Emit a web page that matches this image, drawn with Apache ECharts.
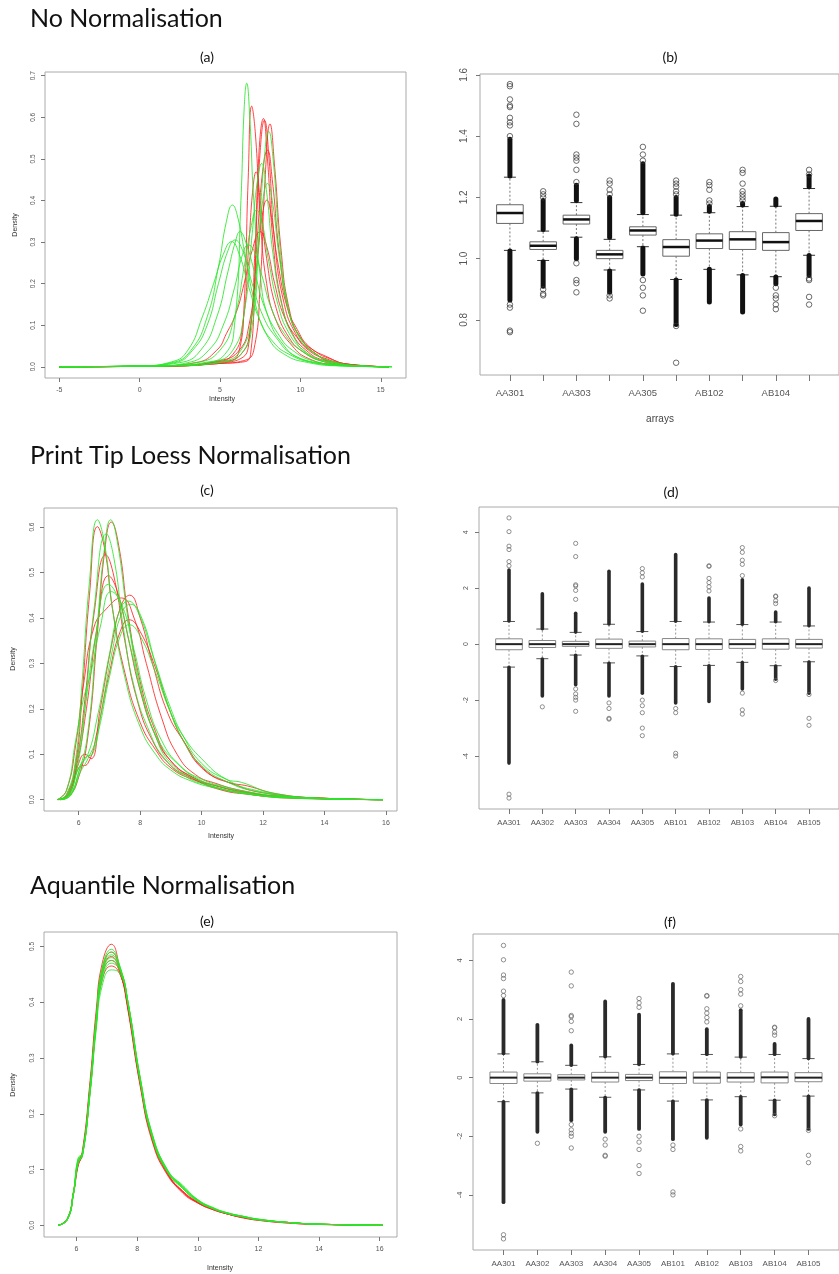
<!DOCTYPE html>
<html><head><meta charset="utf-8">
<script src="https://cdn.jsdelivr.net/npm/echarts@6/dist/echarts.min.js"></script>
<style>html,body{margin:0;padding:0;background:#fff}#c{width:839px;height:1274px}</style>
</head><body><div id="c"></div>
<script>
// ---------- Panel (a): No normalisation densities ----------
const aR1 = [[-5,0],[2,0.002],[4,0.006],[5.5,0.012],[6.2,0.04],[6.5,0.15],[6.75,0.45],[6.97,0.627],[7.2,0.56],[7.5,0.36],[7.9,0.2],[8.5,0.11],[9.5,0.05],[10.5,0.02],[12,0.006],[15.5,0]];
const aR2 = [[-5,0],[2,0.002],[5,0.008],[6.5,0.012],[6.9,0.03],[7.15,0.2],[7.4,0.5],[7.7,0.597],[7.95,0.5],[8.3,0.3],[8.8,0.16],[9.5,0.08],[10.5,0.035],[11.5,0.015],[13,0.004],[15.5,0]];
const aR3 = [[-5,0],[2,0.002],[5,0.01],[6.3,0.02],[6.8,0.06],[7.2,0.3],[7.5,0.52],[7.76,0.593],[8.05,0.5],[8.4,0.3],[9,0.15],[9.7,0.08],[10.5,0.04],[11.7,0.018],[13,0.005],[15.5,0]];
const aR4 = [[-5,0],[2,0.002],[5,0.008],[6.5,0.015],[7.1,0.04],[7.5,0.2],[7.8,0.45],[8.11,0.584],[8.4,0.48],[8.8,0.28],[9.3,0.14],[10,0.07],[11,0.035],[11.8,0.02],[13,0.006],[15.5,0]];
const aR5 = [[-5,0],[2,0.002],[5,0.012],[6.3,0.03],[6.9,0.1],[7.3,0.3],[7.65,0.47],[7.95,0.521],[8.25,0.45],[8.7,0.27],[9.3,0.13],[10,0.07],[11,0.03],[12,0.012],[13.5,0.003],[15.5,0]];
const aR6 = [[-5,0],[2,0.002],[4.5,0.01],[5.8,0.03],[6.4,0.1],[6.8,0.3],[7.05,0.43],[7.24,0.469],[7.5,0.4],[7.9,0.26],[8.5,0.14],[9.3,0.07],[10.2,0.035],[11.5,0.012],[13,0.003],[15.5,0]];
const aR7 = [[-5,0],[2,0.003],[5,0.015],[6.2,0.04],[6.8,0.1],[7.3,0.25],[7.65,0.37],[7.91,0.401],[8.2,0.36],[8.6,0.25],[9.2,0.14],[9.8,0.09],[10.5,0.05],[11.6,0.025],[13,0.006],[15.5,0]];
const aR8 = [[-5,0],[1,0.002],[3.5,0.01],[4.8,0.04],[5.4,0.08],[6,0.13],[6.5,0.2],[7,0.28],[7.49,0.325],[7.9,0.29],[8.4,0.2],[9,0.12],[9.8,0.07],[10.8,0.035],[12,0.012],[15.5,0]];
const aG1 = [[-5,0],[2,0.003],[4,0.01],[5.3,0.03],[5.9,0.1],[6.3,0.4],[6.5,0.62],[6.66,0.682],[6.85,0.6],[7.1,0.4],[7.5,0.22],[8,0.12],[9,0.05],[10,0.02],[12,0.005],[15.5,0]];
const aG2 = [[-5,0],[2,0.002],[5,0.01],[6.3,0.03],[7,0.1],[7.4,0.3],[7.75,0.5],[8.03,0.566],[8.3,0.5],[8.7,0.3],[9.2,0.15],[9.8,0.08],[10.6,0.04],[12,0.012],[13.5,0.003],[15.7,0]];
const aG3 = [[-5,0],[2,0.003],[4.5,0.012],[5.8,0.04],[6.5,0.13],[7,0.32],[7.3,0.44],[7.59,0.489],[7.9,0.42],[8.3,0.27],[8.9,0.14],[9.6,0.07],[10.5,0.03],[12,0.01],[13.5,0.002],[15.5,0]];
const aG4 = [[-5,0],[2,0.002],[5,0.012],[6.3,0.04],[7,0.13],[7.4,0.3],[7.7,0.41],[7.95,0.441],[8.25,0.4],[8.7,0.26],[9.3,0.13],[10,0.07],[11,0.03],[12.3,0.01],[14,0.002],[15.7,0]];
const aG5 = [[-5,0],[0,0.002],[2,0.01],[3.2,0.04],[4.2,0.12],[4.9,0.24],[5.4,0.35],[5.77,0.389],[6.1,0.36],[6.6,0.26],[7.2,0.15],[8,0.07],[9,0.03],[10.5,0.01],[12.5,0.002],[15.5,0]];
const aG6 = [[-5,0],[0,0.002],[2.5,0.01],[3.8,0.04],[4.8,0.12],[5.5,0.23],[5.95,0.3],[6.24,0.325],[6.6,0.3],[7.2,0.22],[7.8,0.14],[8.6,0.08],[9.5,0.04],[11,0.012],[13,0.002],[15.5,0]];
const aG7 = [[-5,0],[0,0.002],[2.2,0.01],[3.3,0.04],[4.2,0.1],[4.9,0.2],[5.5,0.28],[5.93,0.305],[6.4,0.28],[7,0.2],[7.7,0.12],[8.5,0.07],[9.5,0.03],[11,0.01],[13,0.002],[15.5,0]];
const aG8 = [[-5,0],[0,0.002],[2,0.012],[3,0.04],[3.9,0.12],[4.6,0.2],[5.2,0.27],[5.72,0.301],[6.2,0.27],[6.8,0.19],[7.5,0.11],[8.3,0.06],[9.3,0.03],[10.8,0.01],[13,0.002],[15.5,0]];
const aG9 = [[-5,0],[1,0.002],[3,0.01],[4.3,0.04],[5.2,0.1],[5.9,0.19],[6.4,0.27],[6.76,0.293],[7.1,0.28],[7.6,0.22],[8.2,0.14],[9,0.08],[10,0.04],[11.5,0.012],[13.5,0.002],[15.5,0]];
const aG10 = [[-5,0],[1,0.002],[3.5,0.01],[5,0.04],[5.9,0.12],[6.5,0.24],[6.95,0.34],[7.28,0.377],[7.6,0.35],[8,0.26],[8.6,0.15],[9.3,0.08],[10.2,0.04],[11.5,0.012],[13.5,0.002],[15.7,0]];

// ---------- Panel (c): Print tip loess densities ----------
const cR1 = [[5.3,0],[5.6,0.01],[5.9,0.08],[6.1,0.22],[6.35,0.45],[6.61,0.601],[6.85,0.55],[7.1,0.42],[7.5,0.28],[8,0.17],[8.5,0.11],[9,0.07],[9.7,0.045],[10.5,0.03],[11.5,0.015],[13,0.004],[15.9,0]];
const cR2 = [[5.4,0],[5.7,0.008],[6,0.05],[6.3,0.14],[6.6,0.36],[6.85,0.55],[7.06,0.611],[7.3,0.56],[7.6,0.41],[8,0.26],[8.5,0.15],[9,0.085],[9.8,0.045],[10.6,0.022],[11.5,0.012],[13,0.003],[15.9,0]];
const cR3 = [[5.35,0],[5.65,0.012],[5.95,0.09],[6.2,0.22],[6.5,0.41],[6.88,0.539],[7.15,0.49],[7.5,0.35],[7.9,0.22],[8.4,0.13],[9,0.075],[9.6,0.05],[10.3,0.03],[11.2,0.016],[12.5,0.006],[15.9,0]];
const cR4 = [[5.35,0],[5.65,0.01],[5.95,0.08],[6.25,0.2],[6.6,0.38],[6.97,0.493],[7.25,0.46],[7.6,0.36],[8,0.24],[8.5,0.14],[9,0.085],[9.7,0.05],[10.5,0.03],[11.3,0.018],[12.5,0.007],[15.9,0]];
const cR5 = [[5.3,0],[5.6,0.02],[5.9,0.12],[6.15,0.25],[6.5,0.38],[6.9,0.42],[7.39,0.444],[7.8,0.4],[8.2,0.3],[8.7,0.18],[9.2,0.1],[9.8,0.055],[10.5,0.035],[11.3,0.02],[12.5,0.008],[15.9,0]];
const cR6 = [[5.4,0],[5.7,0.015],[6,0.08],[6.2,0.1],[6.4,0.09],[6.7,0.2],[7.1,0.35],[7.4,0.43],[7.66,0.45],[8,0.4],[8.4,0.3],[8.9,0.19],[9.4,0.13],[10,0.07],[10.8,0.04],[11.5,0.03],[12.5,0.012],[14,0.003],[15.9,0]];
const cR7 = [[5.4,0],[5.7,0.012],[6,0.07],[6.3,0.08],[6.6,0.15],[7,0.28],[7.35,0.37],[7.64,0.396],[8,0.37],[8.5,0.29],[9,0.19],[9.5,0.12],[10.2,0.06],[11,0.035],[12,0.015],[14,0.003],[15.9,0]];
const cG1 = [[5.3,0],[5.6,0.012],[5.9,0.09],[6.1,0.25],[6.35,0.48],[6.61,0.616],[6.85,0.56],[7.1,0.42],[7.5,0.27],[8,0.16],[8.5,0.1],[9,0.065],[9.7,0.04],[10.5,0.025],[11.5,0.012],[13,0.003],[15.9,0]];
const cG2 = [[5.4,0],[5.7,0.01],[6,0.06],[6.3,0.15],[6.6,0.38],[6.85,0.56],[7.04,0.616],[7.25,0.57],[7.6,0.4],[8,0.25],[8.5,0.14],[9,0.08],[9.8,0.045],[10.6,0.025],[11.5,0.013],[13,0.004],[15.9,0]];
const cG3 = [[5.35,0],[5.65,0.01],[5.95,0.07],[6.2,0.2],[6.5,0.42],[6.9,0.585],[7.15,0.53],[7.45,0.38],[7.8,0.25],[8.3,0.15],[8.8,0.09],[9.5,0.05],[10.3,0.03],[11.2,0.016],[12.5,0.006],[15.9,0]];
const cG4 = [[5.35,0],[5.65,0.012],[5.95,0.09],[6.2,0.2],[6.55,0.36],[6.97,0.474],[7.3,0.44],[7.7,0.33],[8.1,0.22],[8.6,0.13],[9.2,0.08],[9.9,0.045],[10.7,0.027],[11.5,0.015],[12.8,0.005],[15.9,0]];
const cG5 = [[5.3,0],[5.6,0.02],[5.9,0.13],[6.15,0.22],[6.4,0.28],[6.7,0.38],[7.06,0.458],[7.4,0.43],[7.8,0.33],[8.2,0.22],[8.7,0.13],[9.3,0.075],[10,0.045],[10.8,0.028],[11.8,0.014],[13,0.005],[15.9,0]];
const cG6 = [[5.45,0],[5.75,0.012],[6.05,0.07],[6.25,0.095],[6.45,0.1],[6.75,0.2],[7.1,0.33],[7.4,0.41],[7.69,0.43],[8.05,0.4],[8.5,0.3],[9,0.2],[9.4,0.14],[10,0.08],[10.8,0.045],[11.3,0.038],[12.3,0.015],[14,0.003],[15.9,0]];
const cG7 = [[5.45,0],[5.75,0.01],[6.05,0.06],[6.3,0.09],[6.6,0.14],[7,0.27],[7.35,0.36],[7.64,0.385],[8,0.36],[8.5,0.28],[9,0.19],[9.4,0.14],[10,0.09],[10.8,0.045],[11.8,0.02],[13.5,0.004],[15.9,0]];
const cG8 = [[5.4,0],[5.7,0.012],[6,0.07],[6.3,0.1],[6.6,0.18],[7,0.32],[7.3,0.41],[7.61,0.437],[7.95,0.41],[8.4,0.32],[8.9,0.21],[9.4,0.13],[10,0.075],[10.8,0.04],[11.8,0.018],[13.5,0.004],[15.9,0]];

// ---------- Panel (e): Aquantile densities ----------
const eIntensity = [5.4,5.7,5.9,6.05,6.2,6.45,6.65,6.85,7.15,7.45,7.7,8.1,8.5,9,9.5,10,10.5,11,11.5,12,13,14,16.1];
const eR1 = [0,0.012,0.06,0.11,0.135,0.26,0.385,0.47,0.504,0.455,0.385,0.25,0.15,0.09,0.06,0.04,0.028,0.02,0.014,0.009,0.004,0.0015,0];
const eR2 = [0,0.01,0.055,0.105,0.13,0.25,0.375,0.46,0.49,0.455,0.39,0.255,0.155,0.093,0.062,0.042,0.03,0.021,0.015,0.01,0.005,0.002,0];
const eR3 = [0,0.012,0.058,0.108,0.128,0.245,0.365,0.45,0.475,0.45,0.39,0.258,0.158,0.095,0.06,0.041,0.029,0.02,0.014,0.01,0.005,0.002,0];
const eR4 = [0,0.011,0.057,0.107,0.127,0.24,0.36,0.44,0.465,0.448,0.392,0.26,0.156,0.094,0.058,0.04,0.028,0.02,0.013,0.009,0.004,0.0015,0];
const eR5 = [0,0.011,0.058,0.112,0.13,0.252,0.37,0.455,0.482,0.452,0.388,0.253,0.153,0.092,0.061,0.041,0.029,0.02,0.014,0.01,0.005,0.002,0];
const eG1 = [0,0.01,0.056,0.11,0.13,0.25,0.372,0.462,0.495,0.46,0.395,0.258,0.157,0.095,0.066,0.043,0.03,0.021,0.015,0.01,0.005,0.002,0];
const eG2 = [0,0.012,0.06,0.112,0.125,0.245,0.368,0.458,0.49,0.462,0.398,0.26,0.158,0.096,0.07,0.045,0.03,0.021,0.016,0.01,0.005,0.002,0];
const eG3 = [0,0.011,0.058,0.118,0.128,0.242,0.365,0.455,0.485,0.46,0.398,0.262,0.16,0.097,0.068,0.044,0.031,0.022,0.016,0.011,0.005,0.002,0];
const eG4 = [0,0.01,0.055,0.115,0.126,0.24,0.36,0.45,0.48,0.458,0.4,0.262,0.16,0.098,0.072,0.046,0.031,0.021,0.015,0.01,0.005,0.002,0];
const eG5 = [0,0.012,0.057,0.12,0.13,0.243,0.36,0.446,0.475,0.458,0.4,0.264,0.162,0.098,0.066,0.043,0.03,0.022,0.016,0.011,0.005,0.002,0];
const eG6 = [0,0.011,0.056,0.113,0.125,0.238,0.355,0.44,0.47,0.455,0.4,0.265,0.163,0.099,0.068,0.045,0.031,0.021,0.015,0.01,0.005,0.002,0];
const eG7 = [0,0.01,0.055,0.11,0.127,0.236,0.35,0.43,0.458,0.45,0.4,0.266,0.164,0.1,0.07,0.046,0.032,0.022,0.016,0.011,0.005,0.002,0];

// ---------- Box plots ----------
const arrays = ['AA301','AA302','AA303','AA304','AA305','AB101','AB102','AB103','AB104','AB105'];
// [lower whisker, Q1, median, Q3, upper whisker]
const bStats = [[1.027,1.115,1.149,1.176,1.266],[0.994,1.030,1.042,1.055,1.090],[1.070,1.113,1.128,1.142,1.183],[0.963,1.000,1.014,1.027,1.063],[1.039,1.077,1.092,1.104,1.144],[0.932,1.008,1.038,1.062,1.142],[0.965,1.033,1.059,1.081,1.150],[0.947,1.030,1.063,1.088,1.170],[0.941,1.027,1.054,1.085,1.171],[1.011,1.092,1.123,1.147,1.229]];
// dense outlier runs [from, to] : upper then lower
const bDense = [[[1.27,1.39],[1.025,0.865]],[[1.095,1.19],[0.99,0.91]],[[1.19,1.24],[1.065,1.0]],[[1.07,1.20],[0.96,0.89]],[[1.15,1.31],[1.035,0.95]],[[1.145,1.20],[0.93,0.785]],[[1.155,1.17],[0.965,0.858]],[[1.175,1.18],[0.945,0.826]],[[1.175,1.195],[0.94,0.918]],[[1.235,1.27],[1.01,0.945]]];
const bSparse = [[1.40,1.435,1.445,1.46,1.495,1.50,1.52,1.563,1.57,0.85,0.84,0.765,0.76],[1.20,1.21,1.22,0.90,0.885,0.88],[1.25,1.29,1.32,1.33,1.34,1.44,1.47,0.985,0.93,0.92,0.89],[1.21,1.225,1.245,1.255,0.88,0.87],[1.32,1.34,1.365,0.93,0.905,0.88,0.83],[1.21,1.22,1.235,1.245,1.255,0.78,0.66],[1.18,1.19,1.225,1.24,1.25],[1.19,1.20,1.21,1.22,1.245,1.28,1.29],[0.905,0.88,0.87,0.85,0.835],[1.275,1.29,0.935,0.93,0.875,0.85]];

const dStats = [[-0.82,-0.20,0,0.19,0.81],[-0.52,-0.12,0,0.13,0.54],[-0.39,-0.08,0,0.10,0.42],[-0.67,-0.15,0,0.18,0.71],[-0.42,-0.10,0,0.11,0.45],[-0.80,-0.20,0,0.20,0.81],[-0.76,-0.19,0,0.19,0.79],[-0.65,-0.15,0,0.17,0.70],[-0.77,-0.18,0.01,0.19,0.79],[-0.63,-0.14,0,0.17,0.65]];
const dDense = [[[0.83,2.65],[-0.83,-4.25]],[[0.55,1.8],[-0.53,-1.85]],[[0.43,1.1],[-0.40,-1.45]],[[0.72,2.6],[-0.68,-1.85]],[[0.46,2.15],[-0.43,-1.75]],[[0.82,3.2],[-0.81,-2.1]],[[0.8,1.65],[-0.77,-2.05]],[[0.71,2.3],[-0.66,-1.6]],[[0.8,1.15],[-0.78,-1.25]],[[0.66,2.0],[-0.64,-1.75]]];
const dSparse = [[2.8,2.95,3.38,3.5,4.02,4.51,-5.36,-5.5],[-2.24],[1.6,1.92,2.08,2.12,3.13,3.6,-1.6,-1.78,-1.9,-2.0,-2.4],[-2.1,-2.3,-2.65,-2.68],[2.4,2.55,2.7,-2.0,-2.2,-2.45,-3.0,-3.27],[-2.3,-2.45,-3.9,-4.0],[1.9,2.05,2.2,2.35,2.78,2.8],[2.45,2.85,3.0,3.28,3.45,-1.75,-2.35,-2.5],[1.45,1.55,1.7,1.72,-1.3],[-1.8,-2.65,-2.9]];

// ---------- Tick labels ----------
const aXTicks = [-5,0,5,10,15];
const aYTicks = [0,0.1,0.2,0.3,0.4,0.5,0.6,0.7];
const cXTicks = [6,8,10,12,14,16];
const cYTicks = [0,0.1,0.2,0.3,0.4,0.5,0.6];
const eXTicks = [6,8,10,12,14,16];
const eYTicks = [0,0.1,0.2,0.3,0.4,0.5];
const bYTicks = [0.8,1.0,1.2,1.4,1.6];
const dYTicks = [-4,-2,0,2,4];
const boxPositions = [1,2,3,4,5,6,7,8,9,10];
const bLabelPositions = [1,3,5,7,9];

const RED = '#ff2424', GREEN = '#2ae62a';
const FONT = 'Liberation Sans, Arial, sans-serif';

const grids = [
  {left:45, top:72, width:361, height:306},
  {left:480, top:74, width:361, height:301},
  {left:44, top:508, width:353, height:303},
  {left:479, top:507, width:362, height:302},
  {left:44, top:932, width:353, height:305},
  {left:473, top:934, width:372, height:316}
].map(g => Object.assign({show:true, borderColor:'#aaa', borderWidth:1, containLabel:false}, g));

function axis(gi, min, max, ticks, fmt, fontSize, margin, rotate) {
  return {type:'value', gridIndex:gi, min:min, max:max,
    axisLine:{show:false, onZero:false},
    splitLine:{show:false},
    axisTick:{show:true, customValues:ticks, length:4, lineStyle:{color:'#777', width:1}},
    axisLabel:{show:true, customValues:ticks, formatter:fmt, fontSize:fontSize, margin:margin, rotate:rotate||0, color:'#555', fontFamily:FONT}};
}
const f1 = v => (+v).toFixed(1);
const f0 = v => String(Math.round(v));
const bFmt = v => arrays[Math.round(v)-1];

const xAxes = [
  axis(0,-5.89,16.57,aXTicks,f0,7,9),
  axis(1,0.1,10.9,boxPositions,bFmt,9.5,13),
  axis(2,4.87,16.36,cXTicks,f0,7,9),
  axis(3,0.1,10.9,boxPositions,bFmt,7.8,9.5),
  axis(4,4.93,16.57,eXTicks,f0,7,9),
  axis(5,0.1,10.9,boxPositions,bFmt,8,10)
];
xAxes[1].axisLabel.customValues = bLabelPositions;
xAxes[1].axisTick.length = 6;
xAxes[3].axisTick.length = 5;
xAxes[5].axisTick.length = 5;
const yAxes = [
  axis(0,-0.027,0.709,aYTicks,f1,6.5,8,90),
  axis(1,0.62,1.603,bYTicks,f1,10,11,90),
  axis(2,-0.025,0.642,cYTicks,f1,6.5,8,90),
  axis(3,-5.89,4.90,dYTicks,f0,7,9,90),
  axis(4,-0.021,0.526,eYTicks,f1,6.5,8,90),
  axis(5,-5.88,4.90,dYTicks,f0,7.5,9,90)
];

const series = [];
function dens(gi, data, color) {
  series.push({type:'line', xAxisIndex:gi, yAxisIndex:gi, data:data, smooth:0.5,
    showSymbol:false, symbol:'none', silent:true, animation:false,
    lineStyle:{color:color, width:1, opacity:0.85}});
}
[aR1,aR2,aR3,aR4,aR5,aR6,aR7,aR8].forEach(d => dens(0,d,RED));
[aG1,aG2,aG3,aG4,aG5,aG6,aG7,aG8,aG9,aG10].forEach(d => dens(0,d,GREEN));
[cR1,cR2,cR3,cR4,cR5,cR6,cR7].forEach(d => dens(2,d,RED));
[cG1,cG2,cG3,cG4,cG5,cG6,cG7,cG8].forEach(d => dens(2,d,GREEN));
[eR1,eR2,eR3,eR4,eR5].forEach(ys => dens(4, eIntensity.map((x,i)=>[x,ys[i]]), RED));
[eG1,eG2,eG3,eG4,eG5,eG6,eG7].forEach(ys => dens(4, eIntensity.map((x,i)=>[x,ys[i]]), GREEN));

function boxes(gi, stats, dense, sparse, sty) {
  series.push({type:'custom', xAxisIndex:gi, yAxisIndex:gi, silent:true, animation:false,
    data: stats.map((s,i)=>[i+1].concat(s)),
    renderItem: function(params, api) {
      const x = api.value(0);
      const pL = api.coord([x, api.value(1)]), pQ1 = api.coord([x, api.value(2)]),
            pM = api.coord([x, api.value(3)]), pQ3 = api.coord([x, api.value(4)]),
            pH = api.coord([x, api.value(5)]);
      const hw = api.size([0.8,0])[0]/2, cw = api.size([0.36,0])[0]/2, cx = pM[0];
      return {type:'group', children:[
        {type:'line', shape:{x1:cx,y1:pQ3[1],x2:cx,y2:pH[1]}, style:{stroke:sty.whisk, lineWidth:1, lineDash:[2,2]}},
        {type:'line', shape:{x1:cx,y1:pQ1[1],x2:cx,y2:pL[1]}, style:{stroke:sty.whisk, lineWidth:1, lineDash:[2,2]}},
        {type:'line', shape:{x1:cx-cw,y1:pH[1],x2:cx+cw,y2:pH[1]}, style:{stroke:sty.cap, lineWidth:1}},
        {type:'line', shape:{x1:cx-cw,y1:pL[1],x2:cx+cw,y2:pL[1]}, style:{stroke:sty.cap, lineWidth:1}},
        {type:'rect', shape:{x:cx-hw, y:pQ3[1], width:2*hw, height:pQ1[1]-pQ3[1]}, style:{fill:'#fff', stroke:sty.box, lineWidth:1}},
        {type:'line', shape:{x1:cx-hw,y1:pM[1],x2:cx+hw,y2:pM[1]}, style:{stroke:sty.med, lineWidth:sty.medW}}
      ]};
    }});
  const runs = [];
  dense.forEach((pair,i) => pair.forEach(r => runs.push([i+1, r[0], r[1]])));
  series.push({type:'custom', xAxisIndex:gi, yAxisIndex:gi, silent:true, animation:false, data:runs,
    renderItem: function(params, api) {
      const a = api.coord([api.value(0), api.value(1)]), b = api.coord([api.value(0), api.value(2)]);
      return {type:'line', shape:{x1:a[0],y1:a[1],x2:b[0],y2:b[1]}, style:{stroke:sty.dense, lineWidth:sty.denseW, lineCap:'round'}};
    }});
  const pts = [];
  sparse.forEach((vals,i) => vals.forEach(v => pts.push([i+1, v])));
  series.push({type:'scatter', xAxisIndex:gi, yAxisIndex:gi, silent:true, animation:false, data:pts,
    symbol:'circle', symbolSize:sty.sym, itemStyle:{color:'rgba(0,0,0,0)', borderColor:sty.pt, borderWidth:0.9}});
}
boxes(1, bStats, bDense, bSparse, {whisk:'#777', cap:'#333', box:'#666', med:'#111', medW:2.5, dense:'#111', denseW:5, sym:5.5, pt:'#333'});
boxes(3, dStats, dDense, dSparse, {whisk:'#999', cap:'#555', box:'#888', med:'#222', medW:2, dense:'#2a2a2a', denseW:3.6, sym:4.2, pt:'#666'});
boxes(5, dStats, dDense, dSparse, {whisk:'#999', cap:'#555', box:'#888', med:'#222', medW:2, dense:'#2a2a2a', denseW:3.8, sym:4.4, pt:'#666'});

function txt(text, x, y, size, opts) {
  opts = opts || {};
  return {type:'text', x:x, y:y, rotation:opts.rot||0, silent:true,
    style:{text:text, fontSize:size, fontFamily:opts.family||FONT, fill:opts.fill||'#333', align:opts.align||'center', verticalAlign:'middle'}};
}
const TF = 'Lato, "Open Sans", sans-serif';
const graphic = [
  txt('No Normalisation', 30, 19, 25, {family:TF, fill:'#111', align:'left'}),
  txt('Print Tip Loess Normalisation', 30, 456, 25, {family:TF, fill:'#111', align:'left'}),
  txt('Aquantile Normalisation', 30, 886, 25, {family:TF, fill:'#111', align:'left'}),
  txt('(a)', 207, 57, 14, {family:TF, fill:'#111'}),
  txt('(b)', 670, 57, 14, {family:TF, fill:'#111'}),
  txt('(c)', 207, 490, 14, {family:TF, fill:'#111'}),
  txt('(d)', 671, 492, 14, {family:TF, fill:'#111'}),
  txt('(e)', 207, 921, 14, {family:TF, fill:'#111'}),
  txt('(f)', 670, 922, 14, {family:TF, fill:'#111'}),
  txt('Density', 15, 225, 7, {rot:Math.PI/2}),
  txt('Density', 13, 659, 7, {rot:Math.PI/2}),
  txt('Density', 13, 1085, 7, {rot:Math.PI/2}),
  txt('Intensity', 222, 399, 7),
  txt('Intensity', 221, 836, 7),
  txt('Intensity', 220, 1268, 7),
  txt('arrays', 660, 419, 10, {fill:'#444'})
];

const chart = echarts.init(document.getElementById('c'), null, {renderer:'canvas'});
chart.setOption({backgroundColor:'#fff', animation:false, grid:grids, xAxis:xAxes, yAxis:yAxes, series:series, graphic:graphic});
</script></body></html>
